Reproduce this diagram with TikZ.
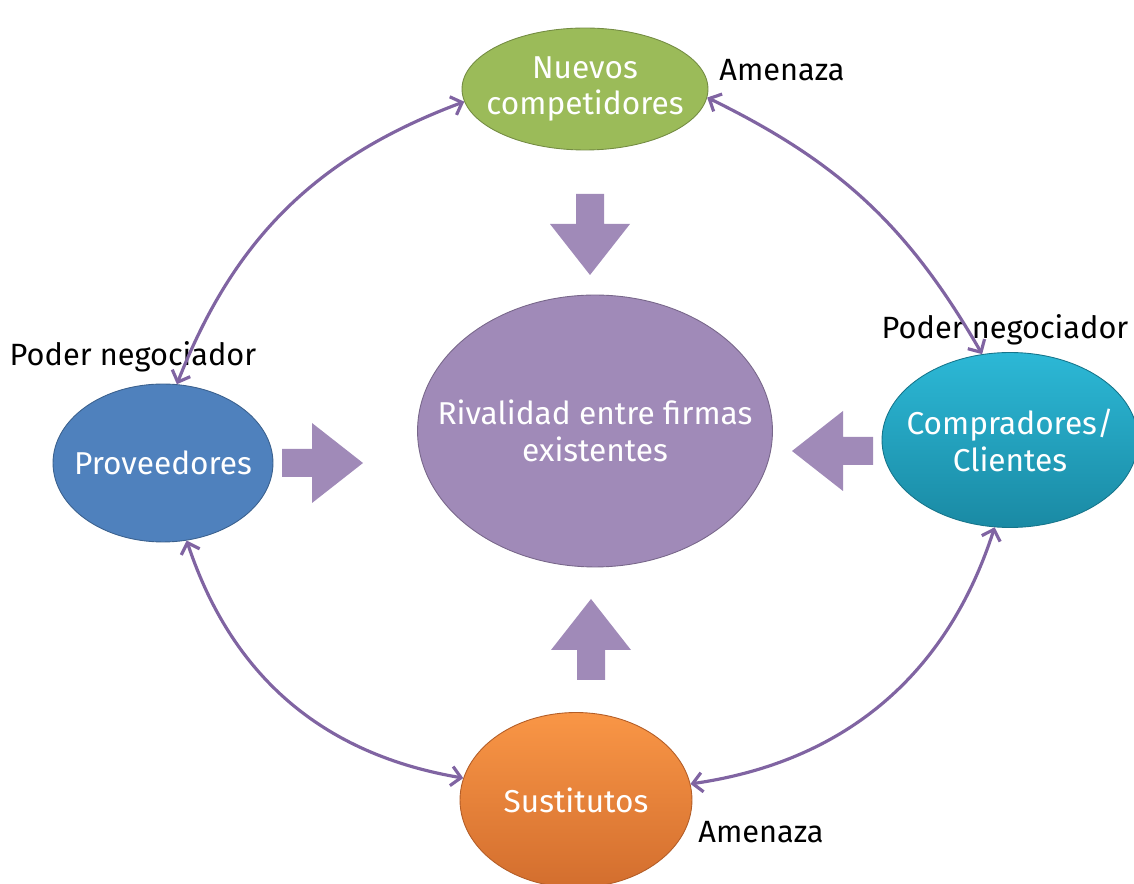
\documentclass[tikz,border=0pt]{standalone}
\usepackage{fontspec}
\setmainfont{Fira Sans}
\usetikzlibrary{shapes.geometric,arrows.meta}

\definecolor{fgreen}{HTML}{9BBB59}
\definecolor{fblue}{HTML}{4F81BD}
\definecolor{fpurple}{HTML}{A08AB8}
\definecolor{flink}{HTML}{8064A2}
\definecolor{ftealtop}{HTML}{2CB8D6}
\definecolor{ftealbot}{HTML}{1A8AA4}
\definecolor{forangetop}{HTML}{F99646}
\definecolor{forangebot}{HTML}{D36E2E}

\tikzset{
  force/.style={ellipse, draw=#1!75!black, line width=0.5pt, inner sep=0pt, fill=#1},
  shadedforce/.style 2 args={ellipse, draw=#2!85!black, line width=0.5pt, inner sep=0pt, top color=#1, bottom color=#2},
  wtext/.style={text=white, align=center, font=\fontsize{18}{21}\selectfont},
  btext/.style={text=black, anchor=base, font=\fontsize{17.5}{20}\selectfont},
  link/.style={<->, >={Straight Barb[length=5.5pt,width=11pt]}, draw=flink, line width=1.8pt},
  bigarrow/.pic={
    \fill[fpurple] (0,-14) -- (30,-14) -- (30,-40) -- (81,0) -- (30,40) -- (30,14) -- (0,14) -- cycle;
  }
}

\begin{document}
\begin{tikzpicture}[x=0.02cm, y=-0.02cm]

    \useasboundingbox (0,0) rectangle (1134,884);

    % Rivalidad
    \node[force=fpurple, minimum width=7.1cm, minimum height=5.44cm,
      label={[wtext]center:Rivalidad entre firmas\\existentes}] (rival) at (595,431) {};

    % Nuevos competidores
    \node[force=fgreen, minimum width=4.92cm, minimum height=2.44cm,
      label={[wtext]center:Nuevos\\competidores}] (nuevos) at (585,89) {};

    % Proveedores
    \node[force=fblue, minimum width=4.4cm, minimum height=3.16cm,
      label={[wtext]center:Proveedores}] (prov) at (163,463) {};

    % Compradores
    \node[shadedforce={ftealtop}{ftealbot}, minimum width=5.12cm, minimum height=3.5cm,
      label={[wtext]center:Compradores/\\Clientes}] (comp) at (1010,440) {};

    % Sustitutos
    \node[shadedforce={forangetop}{forangebot}, minimum width=4.64cm, minimum height=3.5cm,
      label={[wtext]center:Sustitutos}] (sust) at (576,800) {};

    % Block arrows
    \pic[rotate=-90] at (590,194) {bigarrow};
    \pic at (282,463) {bigarrow};
    \pic[rotate=180] at (873,451) {bigarrow};
    \pic[rotate=90] at (591,680) {bigarrow};

    % Labels
    \node[btext] (amen1) at (782,81) {Amenaza};
    \node[btext] (poder1) at (133,366) {Poder negociador};
    \node[btext] (poder2) at (1005,339) {Poder negociador};
    \node[btext] (amen2) at (761,843) {Amenaza};

    % Connections
    \draw[link] (nuevos.186) to[bend right=24] (prov.80);
    \draw[link] (nuevos.356) to[bend left=17] (comp.108);
    \draw[link] (prov.287) to[bend right=31] (sust.169);
    \draw[link] (sust.8) to[bend right=32] (comp.260);

\end{tikzpicture}
\end{document}
